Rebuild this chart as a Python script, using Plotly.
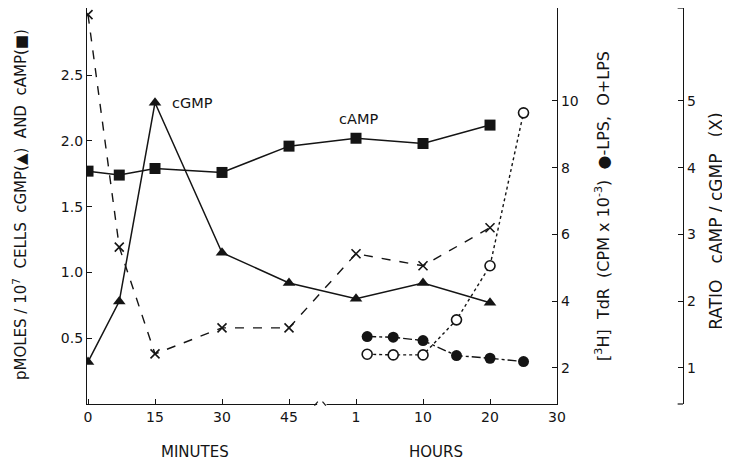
import plotly.graph_objects as go

# ---------------- data (times in hours) ----------------
nuc_times = [0, 7/60, 15/60, 30/60, 45/60, 1, 10, 20]
camp_vals = [1.77, 1.74, 1.79, 1.76, 1.96, 2.02, 1.98, 2.12]
cgmp_vals = [0.32, 0.78, 2.29, 1.15, 0.92, 0.80, 0.92, 0.77]
ratio_vals = [6.29, 2.81, 1.21, 1.60, 1.60, 2.71, 2.53, 3.10]

tdr_times = [2.5, 6, 10, 15, 20, 25]
tdr_minus_lps = [2.94, 2.92, 2.82, 2.37, 2.29, 2.19]
tdr_plus_lps = [2.41, 2.39, 2.39, 3.44, 5.06, 9.64]

x_tick_pos = [0, 1, 2, 3, 4, 5, 6, 7]
x_tick_text = ["0", "15", "30", "45", "1", "10", "20", "30"]
left_ticks = [0.5, 1.0, 1.5, 2.0, 2.5]
left_tick_text = ["0.5", "1.0", "1.5", "2.0", "2.5"]
tdr_ticks = [2, 4, 6, 8, 10]
ratio_ticks = [1, 2, 3, 4, 5]


def pos(t):
    """broken time scale: minutes segment then hours segment"""
    if t < 1:
        return t * 60 / 15
    if t <= 10:
        return 4 + (t - 1) / 9
    return 5 + (t - 10) / 10


nuc_x = [pos(t) for t in nuc_times]
tdr_x = [pos(t) for t in tdr_times]

INK = "#141414"
FONT = "DejaVu Sans"

fig = go.Figure()

fig.add_trace(go.Scatter(
    x=nuc_x, y=ratio_vals, yaxis="y3", mode="lines+markers",
    line=dict(color=INK, width=1.4, dash="dash"),
    marker=dict(symbol="x-thin", size=9, line=dict(color=INK, width=1.6)),
    name="ratio"))
fig.add_trace(go.Scatter(
    x=tdr_x, y=tdr_minus_lps, yaxis="y2", mode="lines+markers",
    line=dict(color=INK, width=1.4, dash="dashdot"),
    marker=dict(symbol="circle", size=11, color=INK),
    name="-LPS"))
fig.add_trace(go.Scatter(
    x=tdr_x, y=tdr_plus_lps, yaxis="y2", mode="lines+markers",
    line=dict(color=INK, width=1.4, dash="dot"),
    marker=dict(symbol="circle", size=10, color="white", line=dict(color=INK, width=1.6)),
    name="+LPS"))
fig.add_trace(go.Scatter(
    x=nuc_x, y=cgmp_vals, mode="lines+markers",
    line=dict(color=INK, width=1.5),
    marker=dict(symbol="triangle-up", size=11, color=INK),
    name="cGMP"))
fig.add_trace(go.Scatter(
    x=nuc_x, y=camp_vals, mode="lines+markers",
    line=dict(color=INK, width=1.5),
    marker=dict(symbol="square", size=11, color=INK),
    name="cAMP"))

axis_common = dict(showgrid=False, zeroline=False, showline=True, linecolor=INK,
                   linewidth=1.2, ticks="inside", ticklen=5, tickcolor=INK,
                   tickwidth=1.2, tickfont=dict(family=FONT, size=14, color=INK))

# page body has an 8px default margin, so the figure is laid out 8px up/left
fig.update_layout(
    width=730, height=463,
    margin=dict(l=79, r=55, t=0, b=67),
    paper_bgcolor="white", plot_bgcolor="white",
    showlegend=False,
    font=dict(family=FONT, color=INK),
    xaxis=dict(domain=[0, 0.7886], range=[-0.015, 7.0], tickvals=x_tick_pos,
               ticktext=x_tick_text, mirror=True, **axis_common),
    yaxis=dict(range=[0, 3.01], tickvals=left_ticks, ticktext=left_tick_text,
               **axis_common),
    yaxis2=dict(overlaying="y", side="right", anchor="x", range=[0.92, 12.78],
                tickvals=tdr_ticks, **axis_common),
    yaxis3=dict(overlaying="y", side="right", anchor="free", position=1.0,
                range=[0.46, 6.39], tickvals=ratio_ticks, **axis_common),
)

# axis break on the time axis
fig.add_shape(type="rect", xref="x", yref="paper", x0=3.42, x1=3.56, y0=-0.012, y1=0.012,
              fillcolor="white", line=dict(width=0), layer="above")
fig.add_shape(type="line", xref="x", yref="paper", x0=3.38, x1=3.43, y0=-0.004, y1=0.006,
              line=dict(color=INK, width=1.2))
fig.add_shape(type="line", xref="x", yref="paper", x0=3.50, x1=3.55, y0=0.006, y1=-0.004,
              line=dict(color=INK, width=1.2))
# end caps of the ratio axis
for yy in (0, 1):
    fig.add_shape(type="line", xref="paper", yref="paper", x0=0.991, x1=1.0, y0=yy, y1=yy,
                  line=dict(color=INK, width=1.2))


def note(x, y, text, size, xref="paper", yref="paper", angle=0, xanchor="center"):
    fig.add_annotation(x=x, y=y, xref=xref, yref=yref, text=text, showarrow=False,
                       textangle=angle, xanchor=xanchor, yanchor="middle",
                       font=dict(family=FONT, size=size, color=INK))


note(1.23, 2.29, "cGMP", 14.5, xref="x", yref="y", xanchor="left")
note(3.72, 2.17, "cAMP", 14.5, xref="x", yref="y", xanchor="left")
note(0.1812, -0.121, "MINUTES", 15)
note(0.585, -0.121, "HOURS", 15)
note(-0.1124, 0.5025, "pMOLES / 10<sup>7</sup>  CELLS  cGMP(▲)  AND  cAMP(■)", 15, angle=-90)
note(0.864, 0.5, "[<sup>3</sup>H]  TdR  (CPM x 10<sup>-3</sup>)  ●-LPS,  O+LPS", 16, angle=-90)
note(1.0554, 0.46, "RATIO   cAMP / cGMP   (X)", 17, angle=-90)

fig.write_html("out.html")
